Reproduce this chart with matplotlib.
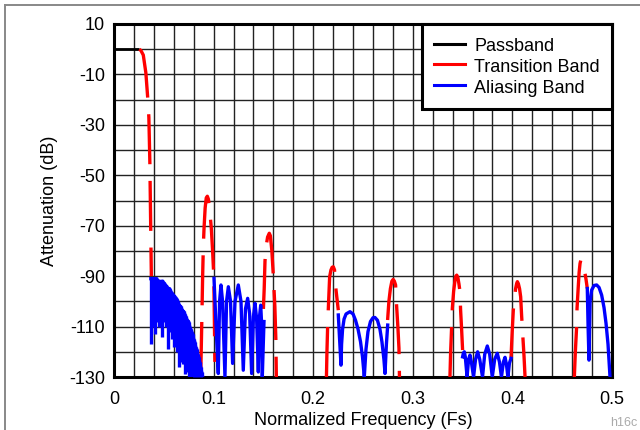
import matplotlib
matplotlib.use("Agg")
import matplotlib.pyplot as plt
from matplotlib.ticker import MultipleLocator, FixedLocator
from matplotlib.lines import Line2D

plt.rcParams['font.family'] = ['Liberation Sans', 'DejaVu Sans']
plt.rcParams['lines.scale_dashes'] = False
plt.rcParams['axes.unicode_minus'] = False
plt.rcParams['path.simplify'] = False

# ---------------- data ----------------
pass_x = [0.0, 0.0254]
pass_y = [0.0, 0.0]

# transition band lobes (red, dashed)
tr1_x = [0.0254, 0.0270, 0.0294, 0.0320, 0.0338, 0.0350, 0.0360, 0.0365, 0.0370, 0.0375]
tr1_y = [0, -0.5, -2.3, -9.4, -19, -27, -45, -60, -75, -90]
tr2_x = [0.0871, 0.0873, 0.0883, 0.0890, 0.0897, 0.0904, 0.0915, 0.0926, 0.0937, 0.0948,
         0.0958, 0.0968, 0.0977, 0.0990, 0.1002, 0.1008, 0.1013]
tr2_y = [-128, -125, -105, -90, -78, -71, -63, -59, -58.3, -59.5, -63, -67, -71, -80, -90, -108, -124]
tr3_x = [0.1500, 0.1508, 0.1516, 0.1528, 0.1542, 0.1559, 0.1570, 0.1585, 0.1600, 0.1615, 0.1625, 0.1630]
tr3_y = [-103, -95, -84, -78, -74.5, -73, -74, -80, -90, -102, -115, -130]
tr4_x = [0.2133, 0.2138, 0.2145, 0.2152, 0.2165, 0.2178, 0.2190, 0.2202, 0.2214, 0.2229, 0.2252]
tr4_y = [-130, -120, -110, -102.7, -90.3, -87.6, -86.5, -86.3, -87.5, -95.5, -103.5]
tr5_x = [0.2747, 0.2760, 0.2775, 0.2790, 0.2803, 0.2815, 0.2827, 0.2837, 0.2850, 0.2861, 0.2866]
tr5_y = [-107.4, -100, -95, -92, -91.3, -92, -93.5, -101.5, -110, -118.6, -130]
tr6_x = [0.3373, 0.3380, 0.3390, 0.3397, 0.3410, 0.3424, 0.3433, 0.3441, 0.3452, 0.3463,
         0.3474, 0.3480, 0.3490, 0.3500]
tr6_y = [-130, -120, -110, -102.8, -96, -91.6, -90, -89.6, -90.5, -93, -96.2, -103.5, -111, -119.3]
tr7_x = [0.3986, 0.3998, 0.4009, 0.4020, 0.4032, 0.4043, 0.4050, 0.4060, 0.4072, 0.4083,
         0.4093, 0.4105, 0.4117, 0.4127]
tr7_y = [-122.6, -112, -103.5, -99.5, -95, -92.9, -92.2, -93, -95, -98.2, -106, -114, -122, -130]
tr8_x = [0.4622, 0.4632, 0.4645, 0.4649, 0.4660, 0.4670, 0.4679, 0.4689, 0.4700, 0.4715,
         0.4729, 0.4740, 0.4752]
tr8_y = [-130, -120, -110, -102.8, -95, -88.5, -85, -83.3, -83.8, -86, -88.9, -91.5, -94.9]

# aliasing band (blue): dense ripple region given as (x, upper, lower) readings
al1_x  = [0.037, 0.038, 0.039, 0.040, 0.041, 0.042, 0.043, 0.044, 0.045, 0.046,
          0.047, 0.048, 0.049, 0.050, 0.051, 0.052, 0.053, 0.054, 0.055, 0.056,
          0.057, 0.058, 0.059, 0.060, 0.061, 0.062, 0.063, 0.064, 0.065, 0.066,
          0.067, 0.068, 0.069, 0.070, 0.071, 0.072, 0.073, 0.074, 0.075, 0.076,
          0.077, 0.078, 0.079, 0.080, 0.081, 0.082, 0.083, 0.084, 0.085, 0.086,
          0.087, 0.088, 0.089]
al1_hi = [-91, -91, -91, -92, -91, -92, -91, -92, -92, -92,
          -93, -92, -92, -93, -93, -94, -94, -95, -95, -95,
          -96, -97, -97, -98, -98, -99, -99, -100, -101, -102,
          -102, -103, -104, -104, -105, -106, -107, -108, -108, -110,
          -111, -112, -113, -115, -116, -118, -119, -121, -122, -124,
          -126, -128, -130]
al1_lo = [-117, -104, -110, -103, -113, -104, -108, -105, -110, -104,
          -108, -114, -106, -108, -107, -110, -109, -119, -110, -112,
          -111, -115, -113, -118, -115, -117, -120, -118, -126, -120,
          -124, -121, -125, -124, -129, -125, -128, -126, -130, -127,
          -130, -128, -130, -130, -130, -130, -130, -130, -130, -130,
          -130, -130, -130]

al2_x = [0.1004, 0.1025, 0.1047, 0.1060, 0.1074, 0.1090, 0.1114, 0.1130, 0.1148, 0.1170,
         0.1191, 0.1215, 0.1248, 0.1275, 0.1298, 0.1320, 0.1342, 0.1362, 0.1382, 0.1400,
         0.1416, 0.1432, 0.1449, 0.1461, 0.1473, 0.1481, 0.1489, 0.1498, 0.1506]
al2_y = [-90.9, -110, -128.6, -100, -93.5, -100, -130, -100, -94.2, -100,
         -124.6, -100, -93.5, -100, -127.3, -103, -98.8, -105, -128.6, -106,
         -100.8, -107, -128, -106, -101.5, -108, -130, -118, -108]
al3_x = [0.2252, 0.2265, 0.2279, 0.2285, 0.2295, 0.2310, 0.2330, 0.2369, 0.2400, 0.2425,
         0.2450, 0.2475, 0.2495, 0.2513, 0.2530, 0.2550, 0.2575, 0.2600, 0.2620, 0.2645,
         0.2670, 0.2690, 0.2710, 0.2721, 0.2735, 0.2748]
al3_y = [-105.4, -115, -125.3, -117, -111, -107, -105, -104.1, -105, -107.5,
         -111, -116, -122, -130, -119, -112, -108, -106.5, -106.4, -107.5,
         -111, -116, -123, -128.6, -117, -109.4]
al4_x = [0.3500, 0.3508, 0.3517, 0.3527, 0.3545, 0.3560, 0.3574, 0.3588, 0.3610, 0.3630,
         0.3651, 0.3672, 0.3700, 0.3722, 0.3748, 0.3772, 0.3798, 0.3822, 0.3848, 0.3870,
         0.3890, 0.3910, 0.3926, 0.3940, 0.3955, 0.3970, 0.3986]
al4_y = [-122, -120.5, -120, -122, -130, -123, -121.3, -124, -130, -123,
         -120, -123, -130, -121, -117.7, -121, -130, -123, -120.6, -124,
         -130, -124, -122.2, -125, -130, -124.5, -122.6]
al5_x = [0.4752, 0.4760, 0.4769, 0.4775, 0.4780, 0.4796, 0.4820, 0.4846, 0.4870, 0.4896,
         0.4920, 0.4940, 0.4960, 0.4980]
al5_y = [-94.9, -110, -123.3, -110, -100, -95.5, -93.7, -93.5, -94.5, -97.5,
         -102.5, -108.7, -117, -130]

x_ticks = [0, 0.1, 0.2, 0.3, 0.4, 0.5]
x_tick_labels = ['0', '0.1', '0.2', '0.3', '0.4', '0.5']
y_ticks = [10, -10, -30, -50, -70, -90, -110, -130]
legend_labels = ['Passband', 'Transition Band', 'Aliasing Band']
colors = ['black', '#ff0000', '#0000ff']

# ---------------- figure ----------------
fig = plt.figure(figsize=(6.4, 4.3), dpi=100)
ax = fig.add_axes([114/640, 1-377/430, (612-114)/640, (377-24)/430])

lw = 2.4
ax.plot(pass_x, pass_y, color=colors[0], lw=2.0, solid_capstyle='butt', zorder=3)

dash = (0, (36, 12))
for xs, ys in [(tr1_x, tr1_y), (tr2_x, tr2_y), (tr3_x, tr3_y), (tr4_x, tr4_y),
               (tr5_x, tr5_y), (tr6_x, tr6_y), (tr7_x, tr7_y), (tr8_x, tr8_y)]:
    ax.plot(xs, ys, color=colors[1], lw=lw, linestyle=dash, dash_capstyle='butt', zorder=3)

# dense ripple: each reading spans from its upper to its lower value (solid band)
ax.fill_between(al1_x, al1_lo, al1_hi, color=colors[2], lw=0, zorder=3)
ax.vlines(al1_x, al1_lo, al1_hi, color=colors[2], lw=lw, zorder=3)
ax.plot(al1_x, al1_hi, color=colors[2], lw=lw, zorder=3, solid_joinstyle='round')
for xs, ys in [(al2_x, al2_y), (al3_x, al3_y), (al4_x, al4_y), (al5_x, al5_y)]:
    ax.plot(xs, ys, color=colors[2], lw=lw, zorder=3)

ax.set_xlim(0, 0.5)
ax.set_ylim(-130, 10)
ax.xaxis.set_major_locator(FixedLocator(x_ticks))
ax.set_xticklabels(x_tick_labels)
ax.xaxis.set_minor_locator(MultipleLocator(0.02))
ax.yaxis.set_major_locator(FixedLocator(y_ticks))
ax.yaxis.set_minor_locator(MultipleLocator(10))
ax.grid(which='both', color='#222222', lw=1.0, zorder=1)
ax.set_axisbelow(True)
ax.tick_params(which='both', length=0, labelsize=13, colors='black')
ax.tick_params(axis='x', pad=10)
ax.tick_params(axis='y', pad=6.5)
for s in ax.spines.values():
    s.set_linewidth(2.2)
    s.set_color('black')

ax.set_xlabel('Normalized Frequency (Fs)', fontsize=13, labelpad=3)
ax.set_ylabel('Attenuation (dB)', fontsize=13, labelpad=8)

handles = [Line2D([], [], color=c, lw=2.2) for c in colors]
leg = ax.legend(handles, legend_labels, loc='upper right', borderaxespad=0,
                fontsize=13, handlelength=1.7, handletextpad=0.55, labelspacing=0.08,
                handleheight=1.2, borderpad=0.66, fancybox=False, framealpha=1,
                edgecolor='black')
leg.get_frame().set_linewidth(2.2)
leg.set_zorder(5)

# outer gray frame lines
fig.add_artist(Line2D([5/640, 1], [1-5/430, 1-5/430], color='#888888', lw=1.4))
fig.add_artist(Line2D([5/640, 5/640], [0, 1-5/430], color='#888888', lw=1.4))
fig.text(610/640, 1/430, 'h16c', fontsize=9, color='#aaaaaa', ha='left', va='bottom')

fig.savefig('out.png', dpi=100)
